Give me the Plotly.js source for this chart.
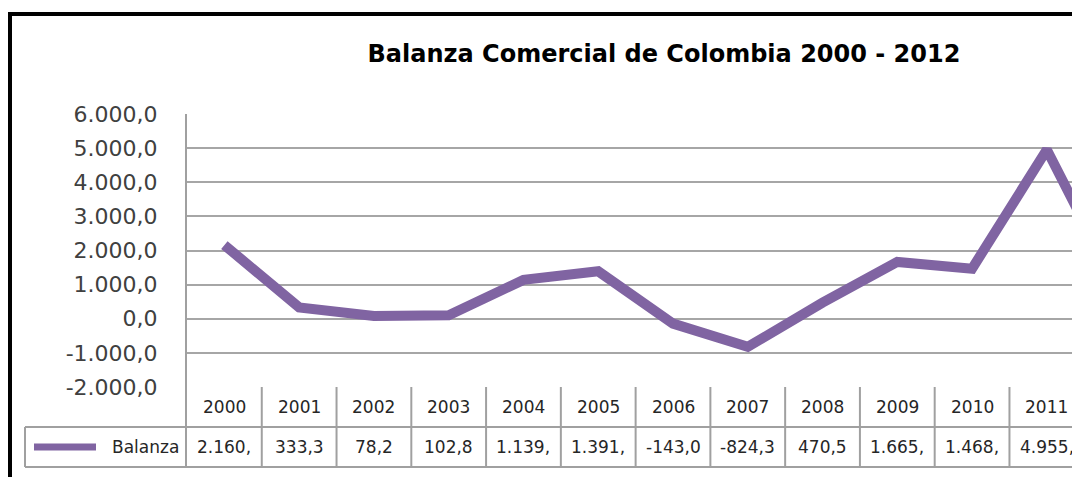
<!DOCTYPE html>
<html>
<head>
<meta charset="utf-8">
<script src="https://cdn.plot.ly/plotly-3.0.1.min.js"></script>
<style>
  html, body { margin: 0; padding: 0; background: #fff; overflow: hidden; }
  #chart { width: 1200px; height: 477px; }
</style>
</head>
<body>
<div id="chart"></div>
<script>
// ---- data ----
const years = ["2000","2001","2002","2003","2004","2005","2006","2007","2008","2009","2010","2011","2012"];
const balanza = [2160.0, 333.3, 78.2, 102.8, 1139.0, 1391.0, -143.0, -824.3, 470.5, 1665.0, 1468.0, 4955.0, 650.0];
const seriesName = "Balanza";
const yTicks = [-2000, -1000, 0, 1000, 2000, 3000, 4000, 5000, 6000];
const chartTitle = "Balanza Comercial de Colombia 2000 - 2012";

// ---- helpers ----
function fmtEs(v) {
  const neg = v < 0;
  const s = Math.abs(v).toFixed(1);
  let [ip, dp] = s.split(".");
  ip = ip.replace(/\B(?=(\d{3})+(?!\d))/g, ".");
  return (neg ? "-" : "") + ip + "," + dp;
}

const W = 1200, H = 477;
const L = 187, R = 1159, T = 114, B = 387;
const PW = R - L, PH = B - T;
const px = p => (p - L) / PW;
const py = p => (B - p) / PH;

const purple = "#8064A2";
const gridC = "#a6a6a6";
const lineC = "#a0a0a0";
const font = "DejaVu Sans, Verdana, sans-serif";
const txtC = "#262626";

const shapes = [];
const annotations = [];

// black frame (left and top)
shapes.push({type:"rect", xref:"paper", yref:"paper", x0:px(8), x1:px(12), y0:py(480), y1:py(12), fillcolor:"#000", line:{width:0}});
shapes.push({type:"rect", xref:"paper", yref:"paper", x0:px(8), x1:px(1300), y0:py(16), y1:py(12), fillcolor:"#000", line:{width:0}});

// data table lines
const tl = {color: lineC, width: 2};
shapes.push({type:"line", xref:"paper", yref:"paper", x0:px(186), x1:px(186), y0:py(467), y1:py(B), line:tl});
shapes.push({type:"line", xref:"paper", yref:"paper", x0:px(25), x1:px(25), y0:py(467), y1:py(427), line:tl});
shapes.push({type:"line", xref:"paper", yref:"paper", x0:px(25), x1:px(1300), y0:py(427), y1:py(427), line:tl});
shapes.push({type:"line", xref:"paper", yref:"paper", x0:px(25), x1:px(1300), y0:py(467), y1:py(467), line:tl});
years.forEach((y, i) => {
  shapes.push({type:"line", xref:"x", yref:"paper", x0:i+0.5, x1:i+0.5, y0:py(467), y1:py(B), line:tl});
  annotations.push({xref:"x", yref:"paper", x:i, y:py(407), text:y, showarrow:false, xanchor:"center", yanchor:"middle", font:{family:font, size:17, color:txtC}});
  annotations.push({xref:"x", yref:"paper", x:i, y:py(447), text:fmtEs(balanza[i]).slice(0,6), showarrow:false, xanchor:"center", yanchor:"middle", font:{family:font, size:17, color:txtC}});
});

// legend key in table
shapes.push({type:"line", xref:"paper", yref:"paper", x0:px(34), x1:px(96), y0:py(447), y1:py(447), line:{color:purple, width:7}});
annotations.push({xref:"paper", yref:"paper", x:px(181), y:py(447), text:seriesName, showarrow:false, xanchor:"right", yanchor:"middle", font:{family:font, size:17, color:txtC}});

const trace = {
  type: "scatter",
  mode: "lines",
  x: years,
  y: balanza,
  name: seriesName,
  line: {color: purple, width: 10},
  hoverinfo: "skip"
};

const layout = {
  width: W, height: H,
  margin: {l: L, r: W - R, t: T, b: H - B, pad: 0},
  paper_bgcolor: "#fff",
  plot_bgcolor: "#fff",
  showlegend: false,
  title: {
    text: "<b>" + chartTitle + "</b>",
    font: {family: font, size: 24, color: "#000"},
    xref: "container", yref: "container",
    x: 664 / W, xanchor: "center",
    y: 1 - 54 / H, yanchor: "middle"
  },
  xaxis: {
    type: "category",
    range: [-0.5, years.length - 0.5],
    showticklabels: false,
    showgrid: false,
    zeroline: false,
    showline: false,
    ticks: ""
  },
  yaxis: {
    range: [yTicks[0], yTicks[yTicks.length - 1]],
    tickvals: yTicks,
    ticktext: yTicks.map(fmtEs),
    tickfont: {family: font, size: 22, color: "#404040"},
    ticks: "outside", ticklen: 23, tickcolor: "rgba(0,0,0,0)",
    showgrid: true, gridcolor: gridC, gridwidth: 2,
    zeroline: false,
    showline: true, linecolor: lineC, linewidth: 2
  },
  shapes: shapes,
  annotations: annotations
};

Plotly.newPlot("chart", [trace], layout, {staticPlot: true, displayModeBar: false});
</script>
</body>
</html>
